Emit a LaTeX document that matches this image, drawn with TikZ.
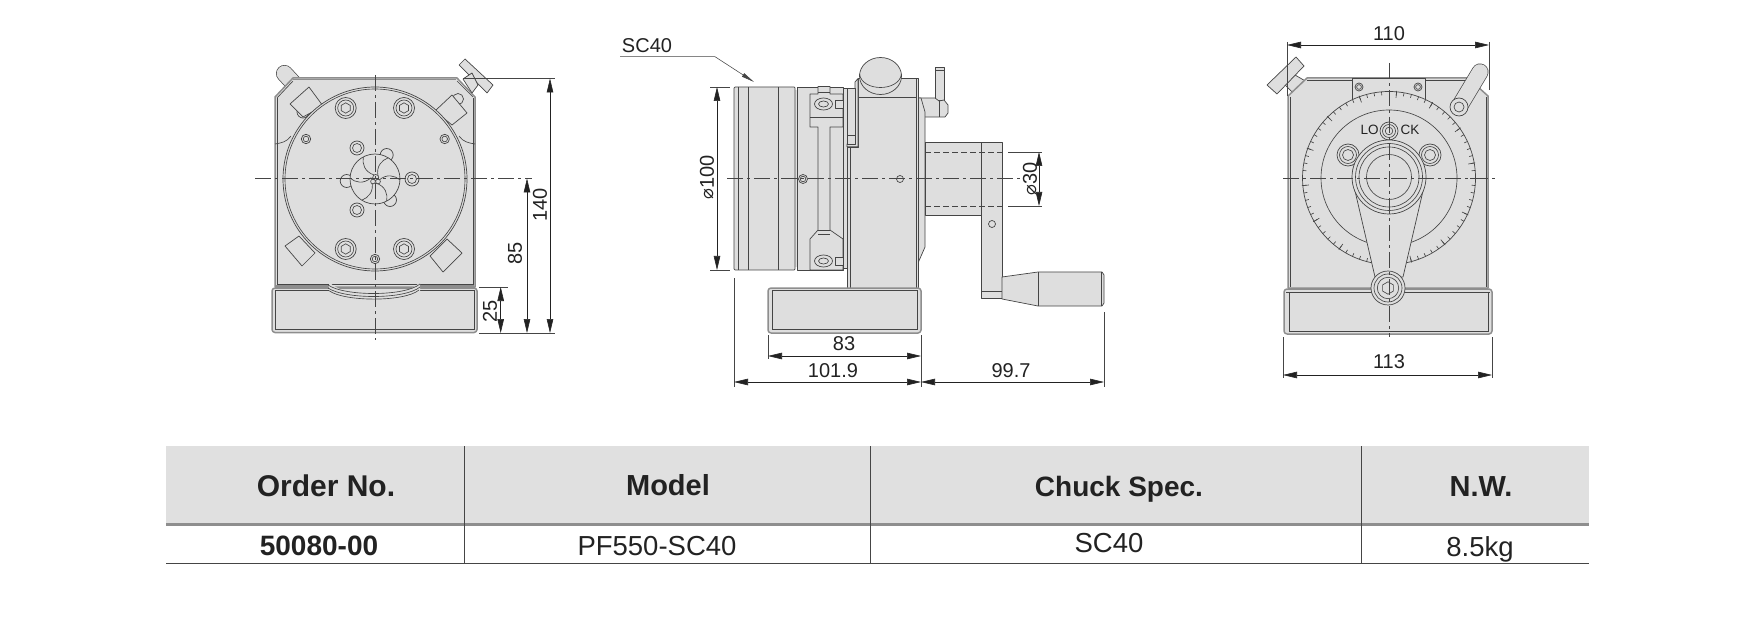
\documentclass[tikz,border=0pt]{standalone}
\usepackage{fontspec}
\setmainfont{Liberation Sans}
\newfontfamily\symfont{DejaVu Sans}
\usetikzlibrary{arrows.meta}
\definecolor{ink}{HTML}{454545}
\definecolor{inktext}{HTML}{222222}
\definecolor{steel}{HTML}{DEDEDE}
\definecolor{edgegray}{HTML}{8E8E8E}
\definecolor{headgray}{HTML}{E0E0E0}
\tikzset{
  part/.style={draw=ink,fill=steel,line width=.7pt,line join=round},
  shell/.style={draw=edgegray,fill=steel,line width=1.5pt,line join=round},
  fine/.style={draw=ink,line width=.65pt},
  thickedge/.style={draw=edgegray,line width=1.6pt},
  axisline/.style={draw=ink,line width=.7pt,dash pattern=on 16pt off 4pt on 3pt off 4pt},
  dimline/.style={draw=inktext,line width=.55pt,{Triangle[length=14pt,width=6.5pt]}-{Triangle[length=14pt,width=6.5pt]}},
  extline/.style={draw=ink,line width=.55pt},
  dimtext/.style={font=\fontsize{20}{20}\selectfont,text=inktext,inner sep=0pt},
  headtext/.style={font=\fontsize{29}{29}\selectfont\bfseries,text=inktext,inner sep=0pt,anchor=base},
  celltext/.style={font=\fontsize{27.5}{28}\selectfont,text=inktext,inner sep=0pt,anchor=base}
}
\newcommand{\hexshape}[3]{\draw[fine,shift={(#1,#2)}] (30:#3)--(90:#3)--(150:#3)--(210:#3)--(270:#3)--(330:#3)--cycle;}
\newcommand{\bigbolt}[2]{\draw[part] (#1,#2) circle[radius=10.5]; \draw[fine] (#1,#2) circle[radius=8]; \hexshape{#1}{#2}{5.2}}
\newcommand{\midbolt}[2]{\draw[part] (#1,#2) circle[radius=7]; \draw[fine] (#1,#2) circle[radius=4.5];}
\newcommand{\smallbolt}[2]{\draw[part] (#1,#2) circle[radius=4.7]; \draw[fine] (#1,#2) circle[radius=2.8];}
\begin{document}
\begin{tikzpicture}[x=1pt,y=-1pt]
\useasboundingbox (0,0) rectangle (1747,620);
% ============ LEFT VIEW ============
\draw[draw=ink,line width=17pt,line cap=round] (284.5,73.5)--(297,87);
\draw[draw=steel,line width=15.6pt,line cap=round] (284.5,73.5)--(297,87);
\draw[part] (459,65)--(465,59)--(493,85)--(487,93)--cycle;
\draw[shell] (293,78)--(457,78)--(475,97)--(475,287)--(275,287)--(275,97)--cycle;
\draw[thickedge] (293,79.5)--(456,79.5);
\draw[fine] (277,98)--(277,284.5)--(473,284.5)--(473,98);
\draw[part] (463,79)--(472,73)--(478,85)--(472,93)--cycle;
\draw[fine] (457,81)--(473,97);
\draw[fine] (293,81)--(277,98);
\draw[fine] (275,144) .. controls (281,143) and (287,142) .. (291,136);
\draw[fine] (475,144) .. controls (469,143) and (463,142) .. (459,136);
% clamps
\draw[part] (458,99) circle[radius=5.5];
\draw[part] (303,112) circle[radius=6];
\draw[part] (290,104)--(309,87)--(323,106)--(303,117)--cycle;
\draw[part] (435,111)--(452,95)--(467,113)--(452,125)--cycle;
\draw[part] (285,246)--(299,236)--(315,253)--(302,266)--cycle;
\draw[part] (430,256)--(447,239)--(462,253)--(443,272)--cycle;
% disc
\draw[part] (375,179) circle[radius=92];
\draw[fine] (375,179) circle[radius=90];
\bigbolt{345.7}{108}\bigbolt{404}{108}\bigbolt{345.7}{249}\bigbolt{404}{249}
\smallbolt{306}{139}\smallbolt{444.7}{139}\smallbolt{375}{259}
\midbolt{357}{148}\midbolt{357}{210}\midbolt{412}{179}
% chuck
\draw[part] (386.7,155) circle[radius=6.5];
\draw[part] (390,200) circle[radius=6.5];
\draw[part] (346.7,181) circle[radius=6.5];
\draw[part] (375,179) circle[radius=25];
\foreach \e in {-118,-58,2,62,122,182}{
  \pgfmathsetmacro{\sa}{\e+18}\pgfmathsetmacro{\ca}{\e-28}\pgfmathsetmacro{\cb}{\e-12}
  \draw[fine,shift={(375,179)}] (\sa:4) .. controls (\ca:13) and (\cb:20) .. (\e:25);
}
\draw[fine,fill=steel] (375.7,177.5) circle[radius=3];
\draw[fine,fill=steel] (373,181.5) circle[radius=2.4];
\draw[fine,fill=steel] (378,181.5) circle[radius=2.4];
% base
\draw[shell,rounded corners=3pt] (272,288)--(477,288)--(477,332.5)--(272,332.5)--cycle;
\draw[fine] (275,290.7)--(329,290.7) (419,290)--(474,290);
\draw[fine] (275,290.7)--(275,329)--(474,329)--(474,290);
\fill[steel] (329,282) .. controls (345,299) and (405,299) .. (420,282) -- (420,291) .. controls (405,305) and (345,305) .. (329,292) -- cycle;
\draw[fine] (328,285) .. controls (345,296.5) and (405,296.5) .. (420,284);
\draw[fine] (328,288) .. controls (345,299.5) and (405,299.5) .. (420,287);
\draw[fine] (329,290.7) .. controls (345,302) and (405,302) .. (419,290);
\draw[thickedge] (276,286)--(328,286) (420,286)--(474,286);
\draw[axisline] (255,178.5)--(532,178.5);
\draw[axisline] (375,75)--(375,340);
% left dims
\coordinate (lt) at (550,78.5);
\coordinate (lb) at (550,333);
\coordinate (lm) at (527,178.5);
\coordinate (lbm) at (527,333);
\coordinate (ls) at (500.7,287);
\coordinate (lsb) at (500.7,333);
\draw[extline] (463,78.5)--(555,78.5);
\draw[extline] (479,333)--(555,333);
\draw[extline] (479,287)--(508,287);
\draw[dimline] (lt)--(lb);
\draw[dimline] (lm)--(lbm);
\draw[dimline] (ls)--(lsb);
\node[dimtext,rotate=90] (d140) at (540,205) {140};
\node[dimtext,rotate=90] (d85) at (515,253) {85};
\node[dimtext,rotate=90] (d25) at (490,311) {25};
% ============ MIDDLE VIEW ============
\draw[part] (935,67)--(944,67)--(944,100)--(935,100)--cycle;
\draw[fine] (935,70.7)--(944,70.7);
\draw[part] (919,98)--(935,98)--(939,101)--(944,100)--(948,105)--(948,113)--(945,117)--(923,117)--cycle;
\draw[fine] (939,101)--(939,117);
\draw[fill=steel,draw=none] (794,90) rectangle (798,267);
\draw[part] (734,88)--(735,87)--(794,87)--(795,88)--(795,269)--(794,270)--(735,270)--(734,269)--cycle;
\draw[fine] (738,87)--(738,270) (748,87)--(748,270) (778,87)--(778,270);
\draw[part] (797,87)--(843,87)--(843,270)--(797,270)--cycle;
% jaw block
\draw[part] (810,94)--(818,94)--(818,86.5)--(830,86.5)--(830,94)--(843,94)--(843,127)--(830,127)--(830,230)--(843,239)--(843,270)--(810,270)--(810,239)--(818,230)--(818,127)--(810,127)--cycle;
\draw[fine] (810,117)--(843,117) (818,92)--(830,92) (818,230)--(830,230) (818,234)--(830,234);
\draw[part] (823.5,104) ellipse[x radius=9,y radius=6];
\draw[fine] (823.5,104) ellipse[x radius=5,y radius=3];
\draw[part] (835,100)--(843,100)--(843,108)--(835,108)--cycle;
\draw[part] (823.5,261) ellipse[x radius=9,y radius=6];
\draw[fine] (823.5,261) ellipse[x radius=5,y radius=3];
\draw[part] (835,257)--(843,257)--(843,265)--(835,265)--cycle;
\draw[part] (843,88)--(847,88)--(847,268)--(843,268)--cycle;
% body
\draw[part] (917,98)--(921,98)--(925,112)--(925,247)--(918,263)--(917,288)--cycle;
\draw[part] (858,78.5)--(918,78.5)--(918,288)--(847,288)--(847,147)--(858,147)--cycle;
\draw[fine] (916,78.5)--(916,288) (850,147)--(850,288);
\draw[fine] (858,97.7)--(917,97.7);
\draw[part] (855,82)--(858,78.5)--(858,146.7)--(847,146.7)--(847,144)--(855,144)--cycle;
\draw[part] (847,88)--(855,88)--(855,144)--(847,144)--cycle;
\draw[fine] (847,135)--(855,135);
% knob
\draw[part] (880.5,76) ellipse[x radius=21,y radius=18.5];
\draw[fine] (859.5,74) .. controls (862,92) and (899,92) .. (901.5,74);
% shaft & crank
\draw[part] (925,142)--(981,142)--(981,215)--(925,215)--cycle;
\draw[part] (981,142)--(1002,142)--(1002,298)--(981,298)--cycle;
\draw[fine] (981,291)--(1002,291);
\draw[fine,dash pattern=on 6pt off 3pt] (925,152)--(1002,152) (925,206)--(1002,206);
\draw[part] (1002,277)--(1038,272)--(1102,272)--(1104,275)--(1104,303)--(1102,306)--(1038,306)--(1002,299)--cycle;
\draw[fine] (1038,272)--(1038,306) (1101.5,272)--(1101.5,306);
% base
\draw[shell,rounded corners=3pt] (768,288)--(921,288)--(921,333)--(768,333)--cycle;
\draw[fine] (772,290)--(772,329)--(917,329)--(917,290)--cycle;
\draw[part] (803,179) circle[radius=4.5];
\draw[fine] (803,179) circle[radius=2.8];
\draw[part] (900,179) circle[radius=3.5];
\draw[part] (992,224) circle[radius=3.5];
\draw[axisline] (727,178.7)--(1023,178.7);
% middle dims and leader
\node[font=\fontsize{20}{20}\selectfont,text=inktext,inner sep=0pt] (lsc) at (647,46) {SC40};
\coordinate (ldra) at (620,56.7);
\coordinate (ldrb) at (715,56.7);
\coordinate (ldrc) at (754,82);
\draw[extline,-{Triangle[length=13pt,width=4pt]}] (ldra)--(ldrb)--(ldrc);
\draw[extline] (710,87)--(730,87) (710,270)--(730,270);
\coordinate (dia1) at (717,87); \coordinate (dia2) at (717,270);
\draw[dimline] (dia1)--(dia2);
\node[dimtext,rotate=90] (d100) at (707,177) {{\symfont\fontsize{18}{18}\selectfont ⌀}100};
\draw[extline] (1008,152)--(1042,152) (1008,206)--(1042,206);
\coordinate (sh1) at (1039,152); \coordinate (sh2) at (1039,206);
\draw[dimline] (sh1)--(sh2);
\node[dimtext,rotate=90] (d30) at (1030,179) {{\symfont\fontsize{18}{18}\selectfont ⌀}30};
\draw[extline] (734,278)--(734,387) (768,335)--(768,359) (921,335)--(921,387) (1104,312)--(1104,387);
\coordinate (b1) at (768,356); \coordinate (b2) at (921,356);
\coordinate (c1) at (734,382); \coordinate (c2) at (921,382); \coordinate (c3) at (1104,382);
\draw[dimline] (b1)--(b2);
\draw[dimline] (c1)--(c2);
\draw[dimline] (c2)--(c3);
\node[dimtext] (d83) at (844,344) {83};
\node[dimtext] (d1019) at (833,371) {101.9};
\node[dimtext] (d997) at (1011,371) {99.7};
% ============ RIGHT VIEW ============
\draw[part] (1285,85)--(1295,75)--(1307,82)--(1293,93)--cycle;
\draw[part] (1267,85)--(1296,57)--(1304,66)--(1277,94)--cycle;
\draw[shell] (1307,78)--(1468,78)--(1488,96)--(1488,288)--(1288,288)--(1288,96)--cycle;
\draw[fine] (1290,97)--(1290,287) (1486,97)--(1486,287);
\draw[fine] (1307,80)--(1468,80);
\draw[part] (1352,78)--(1425,78)--(1425,115)--(1352,115)--cycle;
\draw[part] (1359,87) circle[radius=4];
\draw[fine] (1359,87) circle[radius=2.4];
\draw[part] (1418,87) circle[radius=4];
\draw[fine] (1418,87) circle[radius=2.4];
\draw[part] (1389,178) circle[radius=86.5];
\foreach \a in {0,5,...,355}{\draw[fine,shift={(1389,178)}] (\a:86.5)--(\a:83);}
\foreach \a in {0,25,...,350}{\draw[fine,shift={(1389,178)}] (\a:87.5)--(\a:80.5);}
\draw[fine] (1389,178) circle[radius=68];
\node[text=inktext,inner sep=0pt,font=\fontsize{13.5}{13.5}\selectfont] (lo) at (1369.5,130) {LO};
\node[text=inktext,inner sep=0pt,font=\fontsize{13.5}{13.5}\selectfont] (ck) at (1410,130) {CK};
\draw[part] (1389,131) circle[radius=9];
\draw[fine] (1389,131) circle[radius=6.5];
\draw[fine] (1389,131) circle[radius=3.8];
\foreach \c in {1348,1430}{
  \draw[part] (\c,155) circle[radius=11];
  \draw[fine] (\c,155) circle[radius=8.5];
  \draw[fine] (\c,155) circle[radius=5.5];
}
\draw[part] (1352,178)--(1375,277)--(1403,277)--(1426,178)--cycle;
\draw[part] (1389,177) circle[radius=37];
\draw[fine] (1389,177) circle[radius=33.5];
\draw[fine] (1389,177) circle[radius=30];
\draw[fine] (1389,177) circle[radius=22.5];
% right handle
\draw[draw=ink,line width=17pt,line cap=round] (1459,107)--(1480,72);
\draw[draw=steel,line width=15.6pt,line cap=round] (1459,107)--(1480,72);
\draw[part] (1459,107) circle[radius=9];
\draw[fine] (1459,107) circle[radius=5];
% base
\draw[shell,rounded corners=3pt] (1284,289)--(1492,289)--(1492,334)--(1284,334)--cycle;
\draw[fine] (1286,292)--(1490,292);
\draw[fine] (1289,292)--(1289,331)--(1488,331)--(1488,292);
\draw[part] (1388,288) circle[radius=17];
\draw[fine] (1388,288) circle[radius=14];
\draw[fine] (1388,288) circle[radius=10.7];
\hexshape{1388}{288}{6.2}
\draw[axisline] (1283,178.5)--(1497,178.5);
\draw[axisline] (1389,63)--(1389,337);
% right dims
\draw[extline] (1287,42)--(1287,96) (1489,42)--(1489,90);
\coordinate (r1) at (1287,45); \coordinate (r2) at (1489,45);
\draw[dimline] (r1)--(r2);
\node[dimtext] (d110) at (1389,34) {110};
\draw[extline] (1283,337)--(1283,378) (1492,337)--(1492,378);
\coordinate (r3) at (1283,375); \coordinate (r4) at (1492,375);
\draw[dimline] (r3)--(r4);
\node[dimtext] (d113) at (1389,362) {113};
% ============ TABLE ============
\fill[headgray] (166,446) rectangle (1589,524);
\draw[draw=edgegray,line width=3pt] (166,524)--(1589,524);
\draw[draw=ink,line width=.9pt] (166,563)--(1589,563);
\draw[draw=ink,line width=.6pt] (464,446)--(464,563) (870,446)--(870,563) (1361,446)--(1361,563);
\node[headtext,font=\fontsize{30}{30}\selectfont\bfseries] (h1) at (326,496) {Order No.};
\node[headtext] (h2) at (668,495) {Model};
\node[headtext,font=\fontsize{28}{28}\selectfont\bfseries] (h3) at (1119,496) {Chuck Spec.};
\node[headtext] (h4) at (1481,496) {N.W.};
\node[celltext,font=\fontsize{28}{28}\selectfont\bfseries] (c1a) at (319,555) {50080-00};
\node[celltext] (c2a) at (657,555) {PF550-SC40};
\node[celltext] (c3a) at (1109,552) {SC40};
\node[celltext] (c4a) at (1480,556) {8.5kg};
\end{tikzpicture}
\end{document}
